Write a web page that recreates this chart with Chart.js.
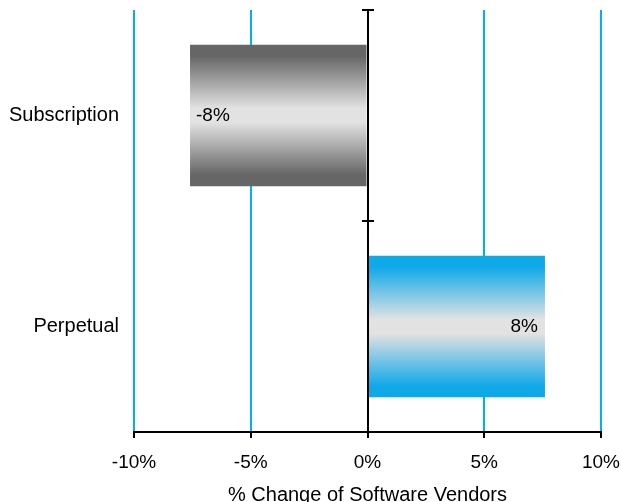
<!DOCTYPE html>
<html>
<head>
<meta charset="utf-8">
<script src="https://cdn.jsdelivr.net/npm/chart.js@4"></script>
<style>
  body { margin: 0; background: #fff; }
  #wrap { width: 621px; height: 502px; }
</style>
</head>
<body>
<div id="wrap"><canvas id="chart"></canvas></div>
<script>
'use strict';

var categories = ['Subscription', 'Perpetual'];
var changes = [-7.6, 7.6];
var xTicks = [-10, -5, 0, 5, 10];
var axisTitle = '% Change of Software Vendors';

var barPct = 0.67;
var edgeColors = ['#666666', '#10a9e7'];
var midColor = '#e2e2e2';
var gridBlue = '#00b0f0';

Chart.defaults.font.family = '"Liberation Sans", Arial, sans-serif';
Chart.defaults.font.size = 19;
Chart.defaults.color = '#000';

// vertical gradient per bar: dark edge, light middle, dark edge
function barFill(context) {
  var chart = context.chart;
  var i = context.dataIndex;
  var yScale = chart.scales.y;
  if (!chart.chartArea || !yScale) return edgeColors[i];
  var center = yScale.getPixelForValue(i);
  var half = (yScale.height / categories.length) * barPct / 2;
  var g = chart.ctx.createLinearGradient(0, center - half, 0, center + half);
  g.addColorStop(0, edgeColors[i]);
  g.addColorStop(0.08, edgeColors[i]);
  g.addColorStop(0.45, midColor);
  g.addColorStop(0.55, midColor);
  g.addColorStop(0.92, edgeColors[i]);
  g.addColorStop(1, edgeColors[i]);
  return g;
}

var zeroAxis = {
  id: 'zeroAxis',
  afterDatasetsDraw: function (chart) {
    var ctx = chart.ctx;
    var x = chart.scales.x;
    var area = chart.chartArea;
    var x0 = Math.round(x.getPixelForValue(0));
    var step = area.height / categories.length;

    ctx.save();
    ctx.strokeStyle = '#000';
    ctx.lineWidth = 2;
    ctx.beginPath();
    ctx.moveTo(x0, area.top);
    ctx.lineTo(x0, area.bottom);
    for (var k = 0; k < categories.length; k++) {
      var ty = Math.round(area.top + k * step);
      ctx.moveTo(x0 - 6, ty);
      ctx.lineTo(x0 + 6, ty);
    }
    ctx.stroke();

    // value labels inside the bar ends
    var meta = chart.getDatasetMeta(0);
    ctx.fillStyle = '#000';
    ctx.font = '19px "Liberation Sans", Arial, sans-serif';
    ctx.textBaseline = 'middle';
    meta.data.forEach(function (bar, i) {
      var v = changes[i];
      var text = v.toFixed(0) + '%';
      if (v < 0) {
        ctx.textAlign = 'left';
        ctx.fillText(text, bar.x + 6, bar.y);
      } else {
        ctx.textAlign = 'right';
        ctx.fillText(text, bar.x - 7, bar.y);
      }
    });
    ctx.restore();
  }
};

var chart = new Chart(document.getElementById('chart'), {
  type: 'bar',
  data: {
    labels: categories,
    datasets: [{
      data: changes,
      backgroundColor: barFill,
      borderWidth: 0,
      barPercentage: barPct,
      categoryPercentage: 1
    }]
  },
  options: {
    indexAxis: 'y',
    responsive: true,
    maintainAspectRatio: false,
    animation: false,
    layout: { padding: { top: 10, right: 20, left: 0, bottom: 0 } },
    plugins: {
      legend: { display: false },
      tooltip: { enabled: false }
    },
    scales: {
      x: {
        min: xTicks[0],
        max: xTicks[xTicks.length - 1],
        afterBuildTicks: function (scale) {
          scale.ticks = xTicks.map(function (v) { return { value: v }; });
        },
        afterFit: function (scale) {
          scale.height = 70;
          scale.paddingLeft = 0;
          scale.paddingRight = 0;
        },
        ticks: {
          padding: 13,
          callback: function (v) { return v + '%'; }
        },
        grid: {
          color: function (c) { return c.tick && c.tick.value === 0 ? 'rgba(0,0,0,0)' : gridBlue; },
          lineWidth: 2,
          tickColor: '#000',
          tickLength: 6
        },
        border: { color: '#000', width: 2 },
        title: {
          display: true,
          text: axisTitle,
          font: { size: 20 },
          padding: { top: 4, bottom: -5 }
        }
      },
      y: {
        afterFit: function (scale) {
          scale.width = 134;
          scale.paddingTop = 0;
          scale.paddingBottom = 0;
        },
        ticks: { padding: 15, font: { size: 20 } },
        grid: { display: false, drawTicks: false },
        border: { display: false }
      }
    }
  },
  plugins: [zeroAxis]
});
</script>
</body>
</html>
